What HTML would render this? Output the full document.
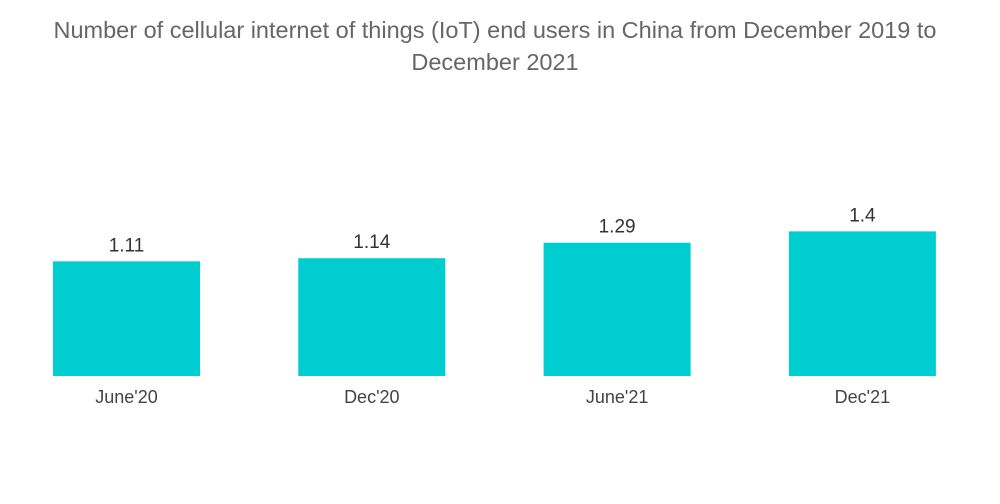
<!DOCTYPE html>
<html><head><meta charset="utf-8"><style>
body{margin:0;background:#fff;font-family:"Liberation Sans",sans-serif}
#c{position:relative;width:1000px;height:504px}
.t{position:absolute;left:0;width:990px;top:14px;text-align:center;color:#666;font-size:23.5px;line-height:32px}
</style></head><body>
<div id="c">
<div class="t">Number of cellular internet of things (IoT) end users in China from December 2019 to<br>December 2021</div>
<svg id="s" width="1000" height="504" style="position:absolute;left:0;top:0"></svg>
</div>
<script>
const categories=["June'20","Dec'20","June'21","Dec'21"];
const values=[1.11,1.14,1.29,1.4];
const labels=["1.11","1.14","1.29","1.4"];
const svg=document.getElementById('s');
const NS='http://www.w3.org/2000/svg';
const base=376, pxPerUnit=103.3;
function y(v){return base-v*pxPerUnit;}
function x(i){return 53+i*245.3;}
const bw=147;
categories.forEach((c,i)=>{
 const r=document.createElementNS(NS,'rect');
 r.setAttribute('x',x(i));r.setAttribute('y',y(values[i]));
 r.setAttribute('width',bw);r.setAttribute('height',base-y(values[i]));
 r.setAttribute('fill','#00cdd0');
 
 
 svg.appendChild(r);
 const vt=document.createElementNS(NS,'text');
 vt.setAttribute('x',x(i)+bw/2);vt.setAttribute('y',y(values[i])-10);
 vt.setAttribute('text-anchor','middle');vt.setAttribute('font-size','19');vt.setAttribute('fill','#333');
 vt.textContent=labels[i];
 
 
 svg.appendChild(vt);
 const ct=document.createElementNS(NS,'text');
 ct.setAttribute('x',x(i)+bw/2);ct.setAttribute('y',403);
 ct.setAttribute('text-anchor','middle');ct.setAttribute('font-size','18');ct.setAttribute('fill','#444');
 ct.textContent=c;
 
 
 svg.appendChild(ct);
});
</script>
</body></html>
